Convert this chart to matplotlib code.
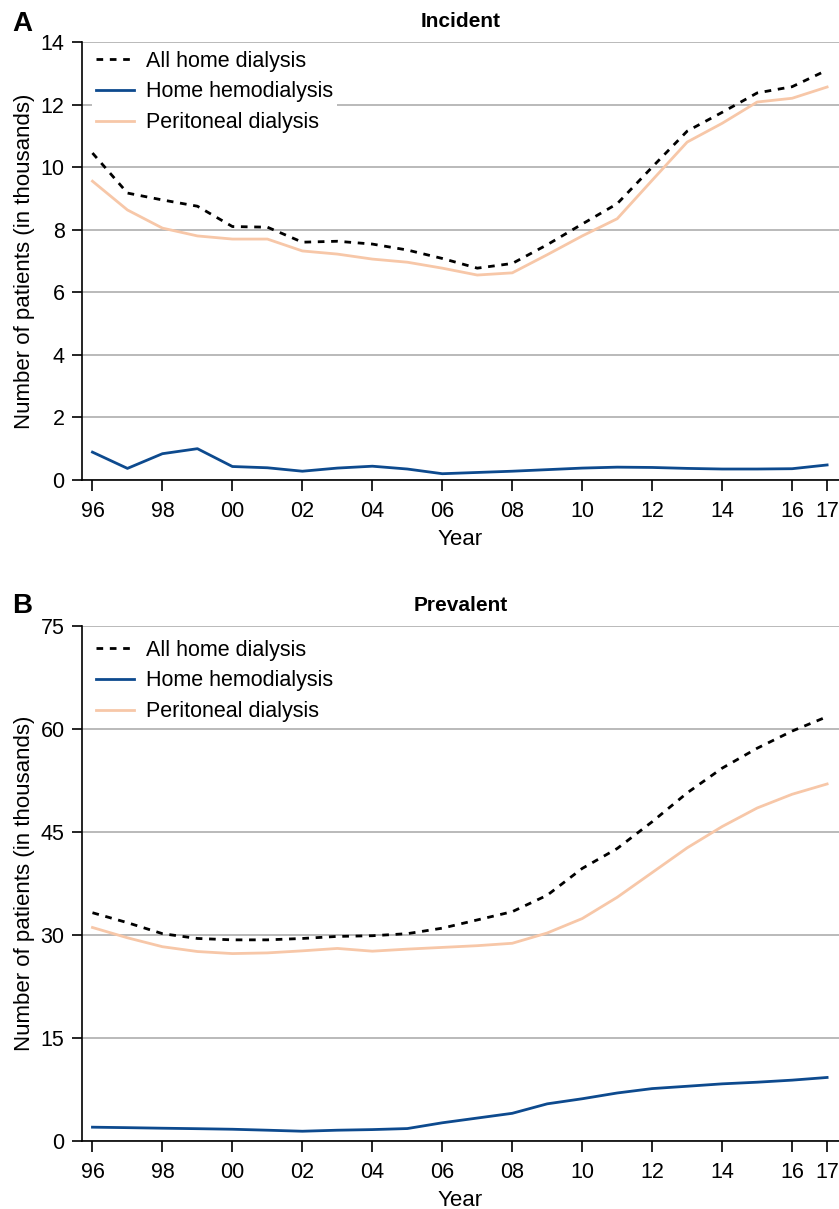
import numpy as np
import matplotlib.pyplot as plt
import matplotlib.transforms as mtransforms

plt.rcParams['font.family'] = ['Liberation Sans', 'DejaVu Sans']

years = [1996, 1997, 1998, 1999, 2000, 2001, 2002, 2003, 2004, 2005, 2006,
         2007, 2008, 2009, 2010, 2011, 2012, 2013, 2014, 2015, 2016, 2017]

# Incident patients (thousands)
inc_all = [10.45, 9.17, 8.95, 8.75, 8.1, 8.08, 7.6, 7.63, 7.54, 7.35, 7.08,
           6.77, 6.92, 7.52, 8.18, 8.83, 10.0, 11.15, 11.75, 12.37, 12.57, 13.1]
inc_hhd = [0.89, 0.37, 0.84, 1.0, 0.43, 0.39, 0.28, 0.38, 0.44, 0.35, 0.2,
           0.24, 0.28, 0.33, 0.38, 0.41, 0.4, 0.37, 0.35, 0.35, 0.36, 0.48]
inc_pd = [9.55, 8.63, 8.05, 7.8, 7.7, 7.7, 7.32, 7.22, 7.06, 6.96, 6.77,
          6.55, 6.62, 7.2, 7.8, 8.35, 9.58, 10.8, 11.4, 12.08, 12.2, 12.56]

# Prevalent patients (thousands)
prev_all = [33.25, 31.8, 30.2, 29.5, 29.3, 29.3, 29.5, 29.8, 29.9, 30.2, 31.0,
            32.2, 33.4, 35.8, 39.7, 42.6, 46.5, 50.7, 54.3, 57.2, 59.7, 61.8]
prev_hhd = [2.02, 1.95, 1.87, 1.8, 1.72, 1.58, 1.43, 1.58, 1.67, 1.82, 2.66,
            3.35, 4.04, 5.42, 6.16, 7.0, 7.64, 7.98, 8.33, 8.57, 8.87, 9.26]
prev_pd = [31.1, 29.6, 28.3, 27.6, 27.3, 27.4, 27.7, 28.05, 27.65, 27.95, 28.2,
           28.45, 28.8, 30.3, 32.4, 35.5, 39.1, 42.7, 45.8, 48.5, 50.5, 52.0]

xtick_pos = [1996, 1998, 2000, 2002, 2004, 2006, 2008, 2010, 2012, 2014, 2016, 2017]
xtick_lab = ['96', '98', '00', '02', '04', '06', '08', '10', '12', '14', '16', '17']

c_all = 'black'
c_hhd = '#0d4a8e'
c_pd = '#f7c7a8'

fig = plt.figure(figsize=(8.39, 12.09), dpi=100)
ax1 = fig.add_axes([0.0977, 0.603, 0.9023, 0.3623])
ax2 = fig.add_axes([0.0977, 0.0562, 0.9023, 0.426])

panels = [
    (ax1, 'A', 'Incident', inc_all, inc_hhd, inc_pd, 14, np.arange(0, 15, 2), -0.055),
    (ax2, 'B', 'Prevalent', prev_all, prev_hhd, prev_pd, 75, np.arange(0, 76, 15), -0.105),
]

for ax, letter, title, d_all, d_hhd, d_pd, ymax, yt, leg_dy in panels:
    ax.plot(years, d_all, color=c_all, lw=2.0, ls=(0, (2.4, 2.4)),
            label='All home dialysis', zorder=4)
    ax.plot(years, d_hhd, color=c_hhd, lw=2.0, label='Home hemodialysis', zorder=3)
    ax.plot(years, d_pd, color=c_pd, lw=2.0, label='Peritoneal dialysis', zorder=3)

    ax.set_xlim(1995.7, 2017.34)
    ax.set_ylim(0, ymax)
    ax.set_yticks(yt)
    ax.set_xticks(xtick_pos)
    ax.set_xticklabels(xtick_lab)
    ax.yaxis.grid(True, color='#b4b4b4', lw=1.3)
    ax.set_axisbelow(True)
    for s in ['top', 'right']:
        ax.spines[s].set_visible(False)
    ax.spines['left'].set_linewidth(1.2)
    ax.spines['bottom'].set_linewidth(1.2)
    ax.tick_params(axis='y', direction='out', length=7, width=1.2, labelsize=15.5, pad=5.5)
    ax.tick_params(axis='x', direction='out', length=8, width=1.2, labelsize=15.5, pad=7)
    ax.set_ylabel('Number of patients (in thousands)', fontsize=16, labelpad=4)
    ax.set_xlabel('Year', fontsize=16, labelpad=5)
    ax.set_title(title, fontsize=15, fontweight='bold', pad=11)
    ax.text(-0.092, 1.025, letter, transform=ax.transAxes, fontsize=20,
            fontweight='bold', va='baseline', ha='left')

    # legend frame kept small and nudged in so the spine and top grid stay visible
    shift = mtransforms.ScaledTranslation(0.105, leg_dy, fig.dpi_scale_trans)
    leg = ax.legend(loc='upper left', fontsize=15.5, frameon=True, fancybox=False,
                    borderaxespad=0.0, borderpad=0.15, handlelength=1.8,
                    handletextpad=0.55, labelspacing=0.45,
                    bbox_to_anchor=(0.0, 1.0), bbox_transform=ax.transAxes + shift)
    leg.get_frame().set_edgecolor('none')
    leg.get_frame().set_facecolor('white')
    leg.get_frame().set_alpha(1)

fig.savefig('out.png', dpi=100)
